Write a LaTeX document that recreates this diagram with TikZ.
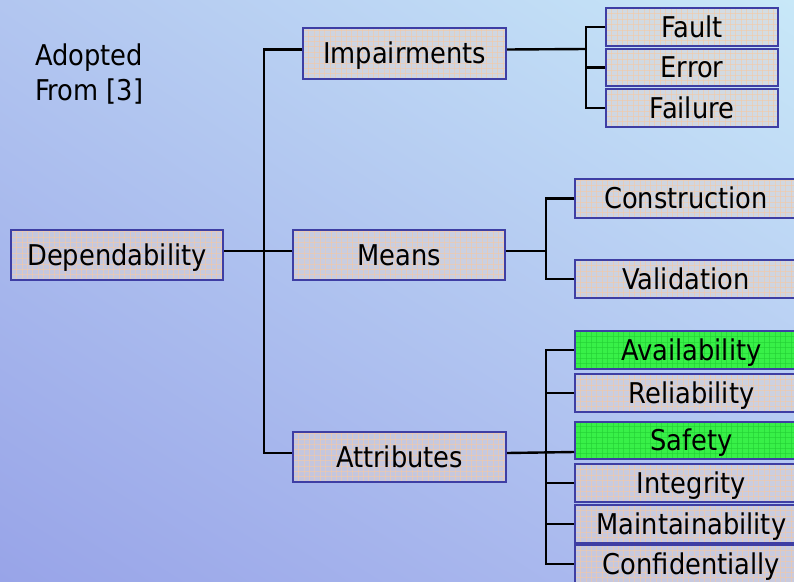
\documentclass[tikz,border=0pt]{standalone}
\usepackage{fontspec}
\setmainfont{DejaVu Sans Condensed}
\usetikzlibrary{shadings}
\definecolor{bgUR}{HTML}{C8E8F8}
\definecolor{bgUL}{HTML}{B2C6F0}
\definecolor{bgLR}{HTML}{B0C0F0}
\definecolor{bgLL}{HTML}{98A4E8}
\definecolor{boxline}{HTML}{3E3EA4}
\definecolor{boxfill}{HTML}{E2D6D0}
\definecolor{gridpeach}{HTML}{F8C8A0}
\definecolor{hotfill}{HTML}{38F048}
\definecolor{hotgrid}{HTML}{22CC33}
\begin{document}
\begin{tikzpicture}[x=1pt,y=-1pt,
  gridlines/.style={path picture={
    \foreach \k in {0,...,45}
      \draw[#1, line width=0.5pt, opacity=0.55]
        ([xshift=\k*5.4pt]path picture bounding box.north west) --
        ([xshift=\k*5.4pt]path picture bounding box.south west);
    \foreach \k in {0,...,12}
      \draw[#1, line width=0.5pt, opacity=0.55]
        ([yshift=\k*5.4pt]path picture bounding box.south west) --
        ([yshift=\k*5.4pt]path picture bounding box.south east);
  }},
  box/.style={draw=boxline, line width=2pt, fill=boxfill, fill opacity=0.5,
    draw opacity=1, text opacity=1, gridlines=gridpeach, inner sep=0pt,
    text height=20.5pt, text depth=0pt,
    font=\fontsize{28.6}{33}\selectfont},
  hotbox/.style={box, fill=hotfill, fill opacity=1, gridlines=hotgrid},
  link/.style={draw=black, line width=2.4pt}
]
\useasboundingbox (0,0) rectangle (794,581);
\clip (0,0) rectangle (794,581);
\shade[lower left=bgLL, upper right=bgUR, upper left=bgUL, lower right=bgLR]
  (0,0) rectangle (794,581);

% note
\node[anchor=north west, align=left, inner sep=0pt,
  font=\fontsize{28.6}{35}\selectfont] (note) at (35,44) {Adopted\\From [3]};

% junction points of the tree
\coordinate (jroot) at (264,251);
\coordinate (jimp) at (586,49);
\coordinate (jmea) at (546,251);
\coordinate (jatt) at (546,452);

% root and first level
\node[box, minimum width=212pt, minimum height=50pt] (dep) at (117,255) {Dependability};
\node[box, minimum width=203pt, minimum height=51pt] (imp) at (404.5,53.5) {Impairments};
\node[box, minimum width=212pt, minimum height=50pt] (mea) at (399,255) {Means};
\node[box, minimum width=213pt, minimum height=50pt] (att) at (399.5,457) {Attributes};

% impairments
\node[box, minimum width=172pt, minimum height=38pt] (fault) at (692,27) {Fault};
\node[box, minimum width=172pt, minimum height=37pt] (error) at (692,67.5) {Error};
\node[box, minimum width=172pt, minimum height=38pt] (failure) at (692,108) {Failure};

% means
\node[box, minimum width=222pt, minimum height=39pt] (cons) at (686,198.5) {Construction};
\node[box, minimum width=222pt, minimum height=38pt] (vali) at (686,279) {Validation};

% attributes
\node[hotbox, minimum width=233pt, minimum height=38pt] (avail) at (691.5,350) {Availability};
\node[box, minimum width=233pt, minimum height=38pt] (rel) at (691.5,393) {Reliability};
\node[hotbox, minimum width=233pt, minimum height=37pt] (safe) at (691.5,440.5) {Safety};
\node[box, minimum width=233pt, minimum height=38pt] (integ) at (691.5,483) {Integrity};
\node[box, minimum width=233pt, minimum height=38pt] (maint) at (691.5,524) {Maintainability};
\node[box, minimum width=233pt, minimum height=38pt] (conf) at (691.5,564) {Confidentially};

% tree connectors
\draw[link] ([yshift=4pt]dep.east) -- ([yshift=4pt]mea.west);
\draw[link] ([yshift=4pt]imp.west) -| (jroot) |- ([yshift=4pt]att.west);

\draw[link] ([yshift=4pt]imp.east) -- (jimp);
\draw[link] (fault.west) -| (jimp) |- (failure.west);
\draw[link] (error.west) -- (error.west -| jimp);

\draw[link] ([yshift=4pt]mea.east) -- (jmea);
\draw[link] (cons.west) -| (jmea) |- (vali.west);

\draw[link] ([yshift=4pt]att.east) -- (jatt -| safe.west);
\draw[link] (avail.west) -| (jatt) |- (conf.west);
\draw[link] (rel.west) -- (rel.west -| jatt);
\draw[link] (integ.west) -- (integ.west -| jatt);
\draw[link] (maint.west) -- (maint.west -| jatt);
\end{tikzpicture}
\end{document}
